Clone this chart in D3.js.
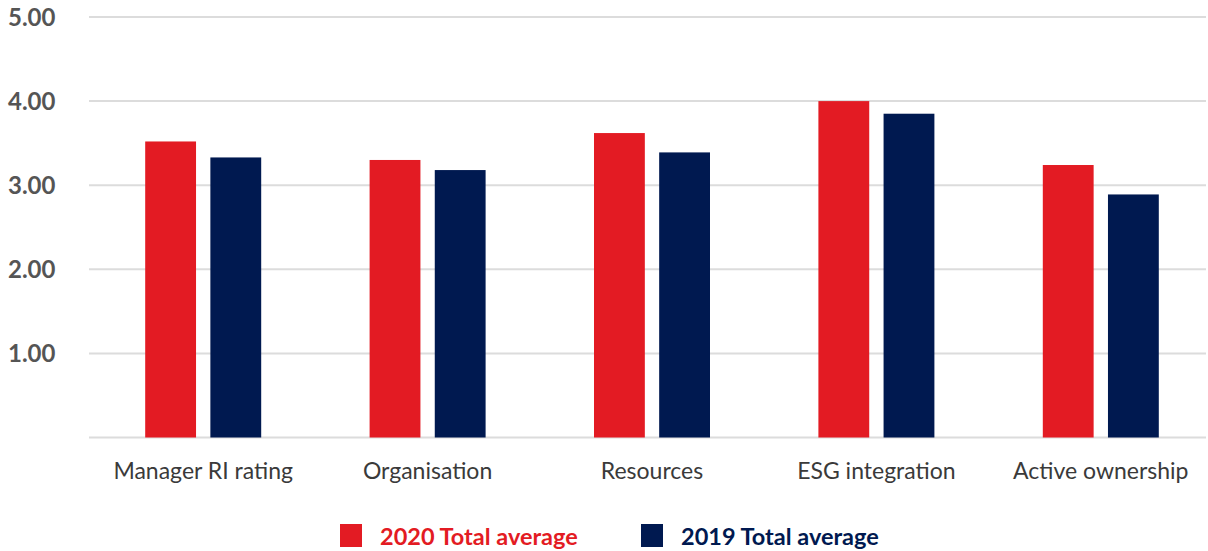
<!DOCTYPE html>
<html><head><meta charset="utf-8">
<script src="https://cdn.jsdelivr.net/npm/d3@7"></script>
<style>body{margin:0;background:#fff}svg{display:block}</style>
</head><body>
<svg id="chart" width="1208" height="551"></svg>
<script>
const categories = ["Manager RI rating","Organisation","Resources","ESG integration","Active ownership"];
const series2020 = [3.52, 3.30, 3.62, 4.00, 3.24];
const series2019 = [3.33, 3.18, 3.39, 3.85, 2.89];
const seriesNames = ["2020 Total average","2019 Total average"];
const yTicks = [1,2,3,4,5];
const colors = ["#E31B23","#001950"];

const svg = d3.select("#chart");
const x = d3.scaleBand().domain(categories).range([91, 1213]).paddingInner(0).paddingOuter(0);
const y = d3.scaleLinear().domain([0,5]).range([437.5, 17]);
const inner = d3.scaleBand().domain([0,1]).range([x.bandwidth()/2-58, x.bandwidth()/2+58]).paddingInner(0.22);

// gridlines
svg.append("g").selectAll("line").data([0].concat(yTicks)).join("line")
  .attr("x1", 89).attr("x2", 1206)
  .attr("y1", d=>y(d)).attr("y2", d=>y(d))
  .attr("stroke", "#dcdcdc").attr("stroke-width", 2);

// y labels
svg.append("g").selectAll("text").data(yTicks).join("text")
  .attr("x", 8).attr("y", d=>y(d)+8.5)
  .attr("font-family","Lato, sans-serif").attr("font-weight","bold")
  .attr("font-size", 24).attr("fill","#555")
  .text(d=>d3.format(".2f")(d));

// bars
const data = categories.map((c,i)=>({c, vals:[series2020[i], series2019[i]]}));
const groups = svg.append("g").selectAll("g").data(data).join("g")
  .attr("transform", d=>`translate(${x(d.c)},0)`);
groups.selectAll("rect").data(d=>d.vals.map((v,k)=>({v,k}))).join("rect")
  .attr("x", d=>inner(d.k)).attr("width", inner.bandwidth())
  .attr("y", d=>y(d.v)).attr("height", d=>y(0)-y(d.v))
  .attr("fill", d=>colors[d.k]);

// x labels
svg.append("g").selectAll("text").data(categories).join("text")
  .attr("x", d=>x(d)+x.bandwidth()/2).attr("y", 479)
  .attr("text-anchor","middle")
  .attr("font-family","Lato, sans-serif").attr("font-size", 23).attr("fill","#3a3a3a")
  .text(d=>d);

// legend
const legX = [340, 641];
const leg = svg.append("g").selectAll("g").data(seriesNames).join("g")
  .attr("transform",(d,i)=>`translate(${legX[i]},524)`);
leg.append("rect").attr("width",22).attr("height",23).attr("fill",(d,i)=>colors[i]);
leg.append("text").attr("x",40).attr("y",21)
  .attr("font-family","Lato, sans-serif").attr("font-weight","bold").attr("font-size",23.5)
  .attr("fill",(d,i)=>colors[i]).text(d=>d);
</script>
</body></html>
